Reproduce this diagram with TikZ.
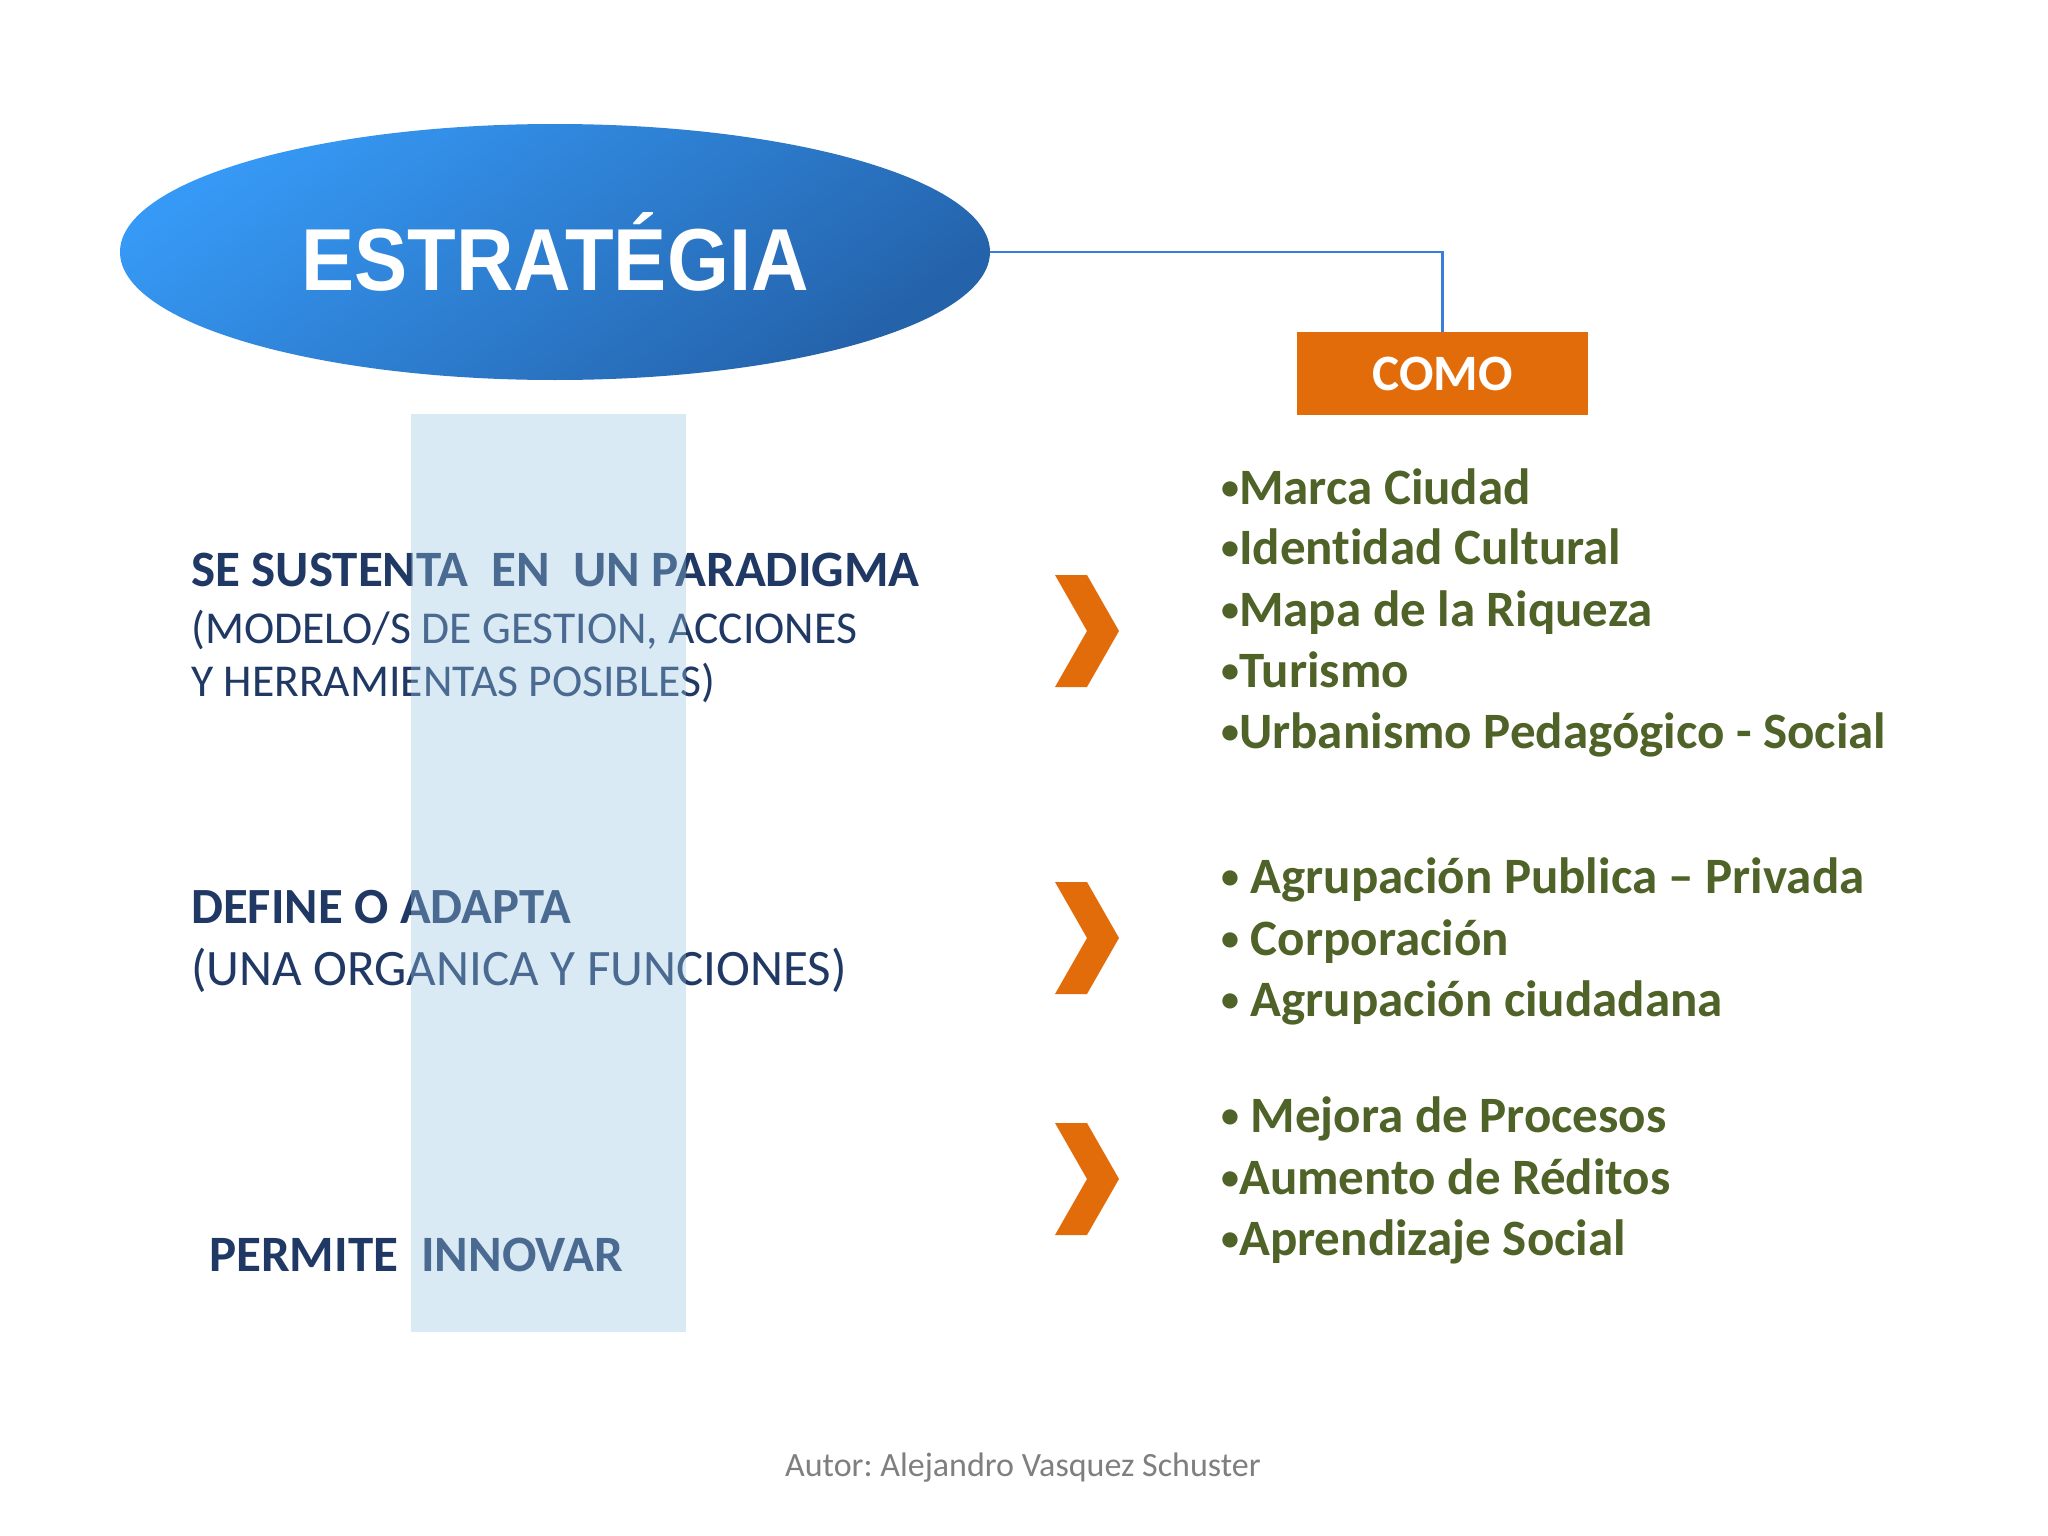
\documentclass[tikz,border=0pt]{standalone}
\usepackage{fontspec}
\setmainfont{Carlito}[Ligatures=NoCommon]
\newfontfamily\headfont{Liberation Sans}
\usetikzlibrary{shapes.geometric}
\definecolor{txtblue}{HTML}{203864}
\definecolor{olive}{HTML}{4F6228}
\definecolor{orng}{HTML}{E36C0A}
\definecolor{lineblue}{HTML}{3B7DD8}
\definecolor{bandblue}{RGB}{150,197,225}
\definecolor{ellA}{HTML}{3699F5}
\definecolor{ellB}{HTML}{2462AA}
\definecolor{foot}{HTML}{7F7F7F}
\newcommand{\fs}[1]{\fontsize{#1}{#1}\selectfont}
\newcommand{\bul}{\raisebox{0.08em}{\fontsize{36}{36}\selectfont •}}
\frenchspacing
\tikzset{
  lefttxt/.style={anchor=base west, inner sep=0, text=txtblue},
  righttxt/.style={anchor=base west, inner sep=0, text=olive, font=\fs{51}\bfseries},
  chev/.style={fill=orng},
}
\begin{document}
\frenchspacing
\begin{tikzpicture}[x=1pt,y=-1pt]
\useasboundingbox (0,0) rectangle (2048,1536);
\fill[white] (0,0) rectangle (2048,1536);
% ellipse
\node[ellipse, minimum width=870, minimum height=256, inner sep=0,
      left color=ellA, right color=ellB, shading angle=35, text=white]
  (estr) at (555,252) {\scalebox{0.905}[1]{\headfont\fs{88}\bfseries ESTRATÉGIA}};
% COMO box
\node[fill=orng, minimum width=291, minimum height=83, inner sep=0, text=white,
      font=\fs{51}\bfseries] (como) at (1442.5,373.5) {COMO};
\draw[lineblue, line width=2.5] (estr.east) -| (como.north);
% left texts
\node[lefttxt, font=\fs{51}\bfseries] (l1) at (191,586) {SE SUSTENTA\ \ EN\ \ UN PARADIGMA};
\node[lefttxt, font=\fs{45.6}] (l2) at (191,643) {(MODELO/S DE GESTION, ACCIONES};
\node[lefttxt, font=\fs{45.6}] (l3) at (191,696) {Y HERRAMIENTAS POSIBLES)};
\node[lefttxt, font=\fs{50.7}\bfseries] (l4) at (191,923) {DEFINE O ADAPTA};
\node[lefttxt, font=\fs{51.1}] (l5) at (191,985) {(UNA ORGANICA Y FUNCIONES)};
\node[lefttxt, font=\fs{51}\bfseries] (l6) at (209,1271) {PERMITE\ \ INNOVAR};
% band
\fill[bandblue, opacity=0.36] (411,414) rectangle (686,1332);
% chevrons
\foreach \yt in {575,882,1123}{
  \fill[chev] (1055,\yt) -- (1087,\yt) -- (1119,\yt+56) -- (1087,\yt+112)
    -- (1055,\yt+112) -- (1087,\yt+56) -- cycle;
}
% right lists
\node[righttxt] (r1) at (1221,504) {\bul Marca Ciudad};
\node[righttxt] (r2) at (1221,564) {\bul Identidad Cultural};
\node[righttxt] (r3) at (1221,626) {\bul Mapa de la Riqueza};
\node[righttxt] (r4) at (1221,687) {\bul Turismo};
\node[righttxt] (r5) at (1221,748) {\bul Urbanismo Pedagógico - Social};
\node[righttxt] (r6) at (1221,893) {\bul\ Agrupación Publica – Privada};
\node[righttxt] (r7) at (1221,955) {\bul\ Corporación};
\node[righttxt] (r8) at (1221,1016) {\bul\ Agrupación ciudadana};
\node[righttxt] (r9) at (1221,1132) {\bul\ Mejora de Procesos};
\node[righttxt] (r10) at (1221,1194) {\bul Aumento de Réditos};
\node[righttxt] (r11) at (1221,1255) {\bul Aprendizaje Social};
% footer
\node[anchor=base west, inner sep=0, text=foot, font=\fs{34}] (foot) at (785,1476) {Autor: Alejandro Vasquez Schuster};
\end{tikzpicture}
\end{document}
